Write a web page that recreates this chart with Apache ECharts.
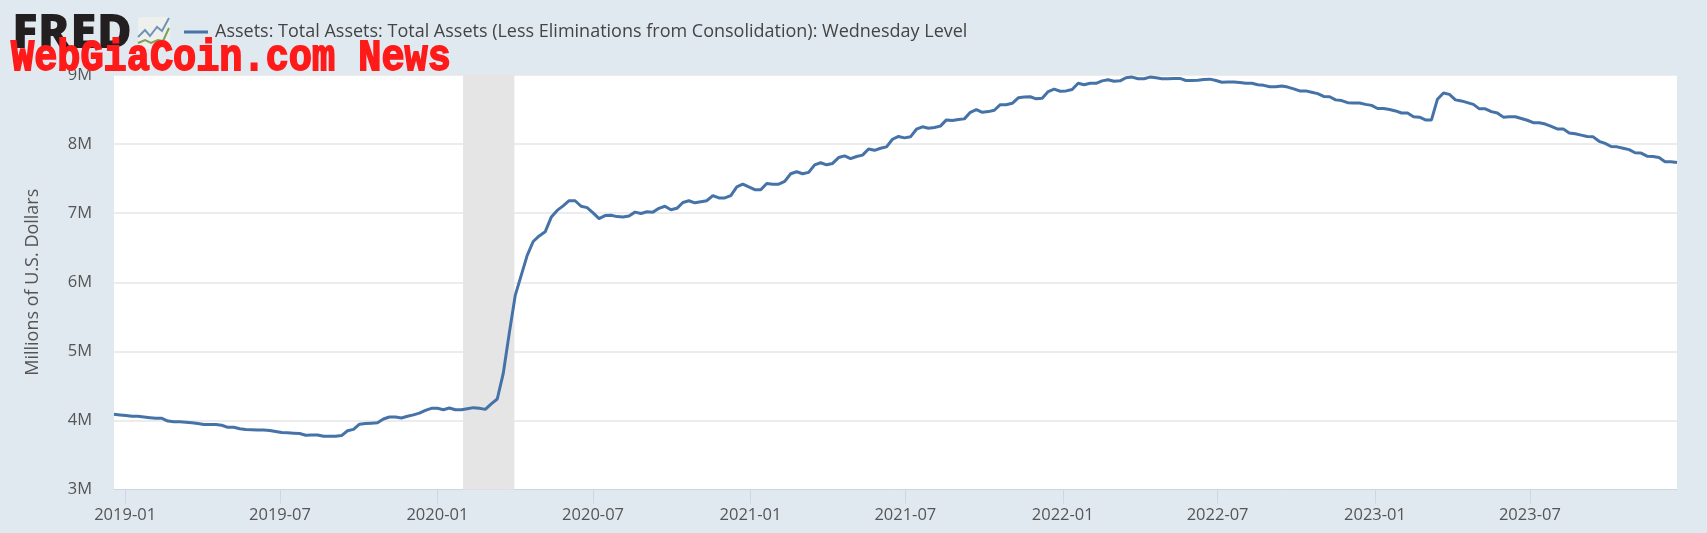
<!DOCTYPE html>
<html>
<head>
<meta charset="utf-8">
<style>html,body{margin:0;padding:0;background:#e1e9f0}#c{width:1707px;height:533px}</style>
<script src="https://cdn.jsdelivr.net/npm/echarts@6/dist/echarts.min.js"></script>
</head>
<body>
<div id="c"></div>
<script>
const seriesName = 'Assets: Total Assets: Total Assets (Less Eliminations from Consolidation): Wednesday Level';
const firstWeek = '2018-12-19';
// Weekly level, millions of U.S. dollars expressed in M
const values2019 = [4.09,4.08,4.07,4.06,4.06,4.05,4.04,4.03,4.03,3.99,3.98,3.98,3.975,3.965,3.955,3.94,3.94,3.94,3.93,3.90,3.90,3.88,3.87,3.865,3.86,3.86,3.855,3.84,3.825,3.82,3.815,3.81,3.785,3.79,3.79,3.77,3.77,3.77,3.78,3.85,3.87,3.945,3.955,3.96,3.965,4.02,4.05,4.05,4.035,4.06,4.08,4.105,4.145,4.175,4.175];
const values2020 = [4.155,4.18,4.155,4.155,4.17,4.185,4.175,4.16,4.24,4.31,4.68,5.26,5.81,6.10,6.39,6.59,6.67,6.73,6.94,7.04,7.105,7.18,7.18,7.10,7.08,7.005,6.92,6.965,6.97,6.95,6.945,6.96,7.015,6.995,7.02,7.015,7.07,7.10,7.05,7.07,7.155,7.18,7.15,7.165,7.18,7.255,7.22,7.22,7.255,7.38,7.42,7.38,7.34];
const values2021 = [7.34,7.43,7.42,7.42,7.46,7.57,7.60,7.57,7.59,7.70,7.73,7.70,7.72,7.805,7.83,7.79,7.82,7.84,7.93,7.91,7.94,7.96,8.07,8.11,8.09,8.105,8.215,8.25,8.23,8.24,8.26,8.35,8.34,8.355,8.365,8.46,8.50,8.46,8.47,8.49,8.57,8.57,8.59,8.67,8.68,8.685,8.655,8.665,8.76,8.795,8.765,8.77];
const values2022 = [8.79,8.88,8.86,8.88,8.88,8.915,8.93,8.91,8.915,8.96,8.97,8.945,8.945,8.97,8.96,8.945,8.945,8.95,8.95,8.92,8.92,8.925,8.935,8.94,8.92,8.895,8.90,8.90,8.89,8.88,8.88,8.86,8.85,8.83,8.83,8.84,8.825,8.80,8.77,8.77,8.75,8.73,8.69,8.685,8.64,8.63,8.60,8.595,8.595,8.575,8.56,8.515];
const values2023 = [8.515,8.50,8.48,8.45,8.45,8.395,8.39,8.35,8.35,8.65,8.74,8.72,8.64,8.625,8.60,8.575,8.51,8.51,8.47,8.45,8.39,8.395,8.395,8.37,8.345,8.31,8.31,8.29,8.255,8.22,8.22,8.16,8.15,8.13,8.11,8.105,8.04,8.01,7.965,7.96,7.94,7.92,7.875,7.87,7.825,7.82,7.805,7.745,7.745,7.735];
const levels = [...values2019, ...values2020, ...values2021, ...values2022, ...values2023];
const axisStart = '2018-12-19';
const axisEnd = '2023-12-20';
const recession = ['2020-01-31', '2020-03-31'];
const xTicks = ['2019-01-01','2019-07-01','2020-01-01','2020-07-01','2021-01-01','2021-07-01','2022-01-01','2022-07-01','2023-01-01','2023-07-01'];
const yTicks = [3,4,5,6,7,8,9];

const ts = s => +new Date(s + 'T00:00:00');
const points = levels.map((v, i) => {
  const d = new Date(ts(firstWeek));
  d.setDate(d.getDate() + 7 * i);
  return [+d, v];
});
const fmtMonth = v => { const d = new Date(v); return d.getFullYear() + '-' + String(d.getMonth() + 1).padStart(2, '0'); };
const FONT = '"Open Sans", sans-serif';

const chart = echarts.init(document.getElementById('c'), null, {renderer: 'canvas'});
chart.setOption({
  animation: false,
  backgroundColor: '#e1e9f0',
  textStyle: {fontFamily: FONT},
  grid: {left: 114, right: 30, top: 75, bottom: 43.5, show: true, backgroundColor: '#ffffff', borderWidth: 0, containLabel: false},
  legend: {
    show: true, left: 179, top: 18, itemWidth: 24, itemHeight: 3, icon: 'rect',
    data: [seriesName],
    textStyle: {fontFamily: FONT, fontSize: 18, color: '#444444', padding: [0, 0, 0, 2]}
  },
  xAxis: {
    type: 'value', min: ts(axisStart), max: ts(axisEnd), scale: true,
    axisLine: {show: true, onZero: false, lineStyle: {color: '#ccd6eb', width: 1}},
    axisTick: {show: true, length: 14, customValues: xTicks.map(ts), lineStyle: {color: '#ccd6eb', width: 1}},
    axisLabel: {show: true, customValues: xTicks.map(ts), formatter: fmtMonth, color: '#555555', fontFamily: FONT, fontSize: 16.5, margin: 17, hideOverlap: false, showMinLabel: true, showMaxLabel: true},
    splitLine: {show: false}, minorTick: {show: false}
  },
  yAxis: {
    type: 'value', min: yTicks[0], max: yTicks[yTicks.length - 1], interval: 1,
    name: 'Millions of U.S. Dollars', nameLocation: 'middle', nameGap: 72, nameRotate: 90,
    nameTextStyle: {color: '#555555', fontFamily: FONT, fontSize: 18},
    axisLine: {show: false}, axisTick: {show: false},
    axisLabel: {formatter: v => v + 'M', color: '#555555', fontFamily: FONT, fontSize: 16.5, margin: 22},
    splitLine: {show: true, lineStyle: {color: '#e6e6e6', width: 1.5}}
  },
  series: [{
    name: seriesName, type: 'line', data: points, showSymbol: false, symbol: 'none', smooth: false,
    itemStyle: {color: '#4572a7'}, lineStyle: {color: '#4572a7', width: 3},
    markArea: {silent: true, itemStyle: {color: '#e5e5e5', opacity: 1}, label: {show: false},
      data: [[{xAxis: ts(recession[0])}, {xAxis: ts(recession[1])}]]},
    z: 5
  }],
  graphic: [
    {type: 'text', left: 12, top: 10, z: 20, style: {text: 'FRED', fontFamily: '"Noto Sans", sans-serif', fontWeight: 900, fontSize: 48, fill: '#231f20'}},
    {type: 'rect', z: 20, shape: {x: 138, y: 17, width: 32, height: 32, r: 3}, style: {fill: '#eef0ee'}},
    {type: 'polyline', z: 21, shape: {points: [[138,37],[145,30],[150,36],[157,27],[162,31],[169,18]]}, style: {stroke: '#6f94b8', lineWidth: 2, fill: null}},
    {type: 'polyline', z: 21, shape: {points: [[138,43],[145,40],[151,43],[158,40],[163,41],[169,28]]}, style: {stroke: '#7fa05a', lineWidth: 2, fill: null}},
    {type: 'text', z: 30, x: 11, y: 36, scaleY: 1.17, style: {text: 'WebGiaCoin.com News', fontFamily: '"Liberation Mono", monospace', fontWeight: 'bold', fontSize: 38.6, fill: '#ff1a1a', stroke: '#ff1a1a', lineWidth: 1.5}}
  ]
});
</script>
</body>
</html>
